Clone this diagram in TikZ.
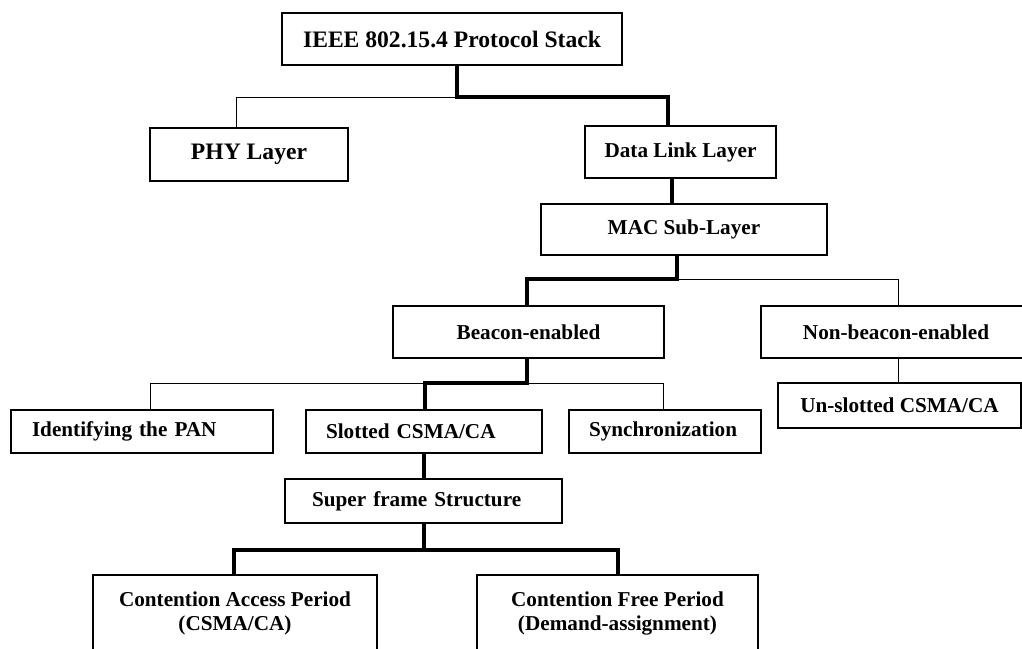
\documentclass[tikz,border=0pt]{standalone}
\usepackage{fontspec}
\setmainfont{Liberation Serif}
\begin{document}
\begin{tikzpicture}[x=1pt,y=-1pt,
  box/.style={draw, line width=1.8pt, inner sep=0pt,
    font=\bfseries\fontsize{21.2}{24}\selectfont},
  bigbox/.style={box, font=\bfseries\fontsize{23.6}{28}\selectfont},
  leftbox/.style={box, align=left},
  twoline/.style={box, align=center},
  thinline/.style={line width=1pt},
  thickline/.style={line width=3.5pt}]
\useasboundingbox (0,0) rectangle (1022,648);
\clip (0,0) rectangle (1022,648);
\fill[white] (0,0) rectangle (1022,648);

% boxes
\node[bigbox, minimum width=340pt, minimum height=52pt] (top) at (452,39) {IEEE 802.15.4 Protocol Stack};
\node[bigbox, minimum width=198pt, minimum height=53pt] (phy) at (249,154.5) {PHY Layer};
\node[box, minimum width=191pt, minimum height=52pt] (dll) at (680.5,152) {Data Link Layer};
\node[box, minimum width=286pt, minimum height=51pt] (mac) at (684,229.5) {MAC Sub-Layer};
\node[box, minimum width=271pt, minimum height=52pt] (beacon) at (528.5,332) {Beacon-enabled};
\node[box, minimum width=270pt, minimum height=52pt] (nonb) at (896,332) {Non-beacon-enabled};
\node[box, minimum width=243pt, minimum height=45pt] (uns) at (899.5,405.5) {Un-slotted CSMA/CA};
\node[leftbox, text width=220pt, inner xsep=21pt, minimum height=43pt] (ident) at (142,431.5) {Identifying the PAN};
\node[leftbox, text width=196pt, inner xsep=20pt, minimum height=43pt] (slot) at (424,431.5) {Slotted CSMA/CA};
\node[leftbox, text width=152pt, inner xsep=20pt, minimum height=43pt] (sync) at (665,431.5) {Synchronization};
\node[leftbox, text width=223pt, inner xsep=27pt, minimum height=44pt] (sf) at (423.5,501) {Super frame Structure};
\node[twoline, minimum width=284pt, minimum height=76pt] (cap) at (235,613) {Contention Access Period\\(CSMA/CA)};
\node[twoline, minimum width=281pt, minimum height=76pt] (cfp) at (617.5,613) {Contention Free Period\\(Demand-assignment)};

% junction points of the tree
\coordinate (j1) at (457,97);
\coordinate (j2) at (677,279);
\coordinate (j3) at (527,383);
\coordinate (j4) at (424,550);
\coordinate (xdll) at (668,0);
\coordinate (xphy) at (236,0);
\coordinate (xmac) at (672,0);
\coordinate (xnonb) at (898,0);
\coordinate (xslot) at (425,0);
\coordinate (xident) at (150,0);
\coordinate (xsync) at (663,0);
\coordinate (xcap) at (234,0);
\coordinate (xcfp) at (618,0);

% connectors
\draw[thickline] (top.south -| j1) -- (j1) -| (dll.north -| xdll);
\draw[thinline] (j1) -| (phy.north -| xphy);
\draw[thickline] (dll.south -| xmac) -- (mac.north -| xmac);
\draw[thickline] (mac.south -| j2) -- (j2) -| (beacon.north -| j3);
\draw[thinline] (j2) -| (nonb.north -| xnonb);
\draw[thinline] (nonb.south -| xnonb) -- (uns.north -| xnonb);
\draw[thickline] (beacon.south -| j3) -- (j3) -| (slot.north -| xslot);
\draw[thinline] (j3 -| xslot) -| (ident.north -| xident);
\draw[thinline] (j3) -| (sync.north -| xsync);
\draw[thickline] (slot.south -| j4) -- (sf.north -| j4);
\draw[thickline] (sf.south -| j4) -- (j4) -| (cap.north -| xcap);
\draw[thickline] (j4) -| (cfp.north -| xcfp);
\end{tikzpicture}
\end{document}
